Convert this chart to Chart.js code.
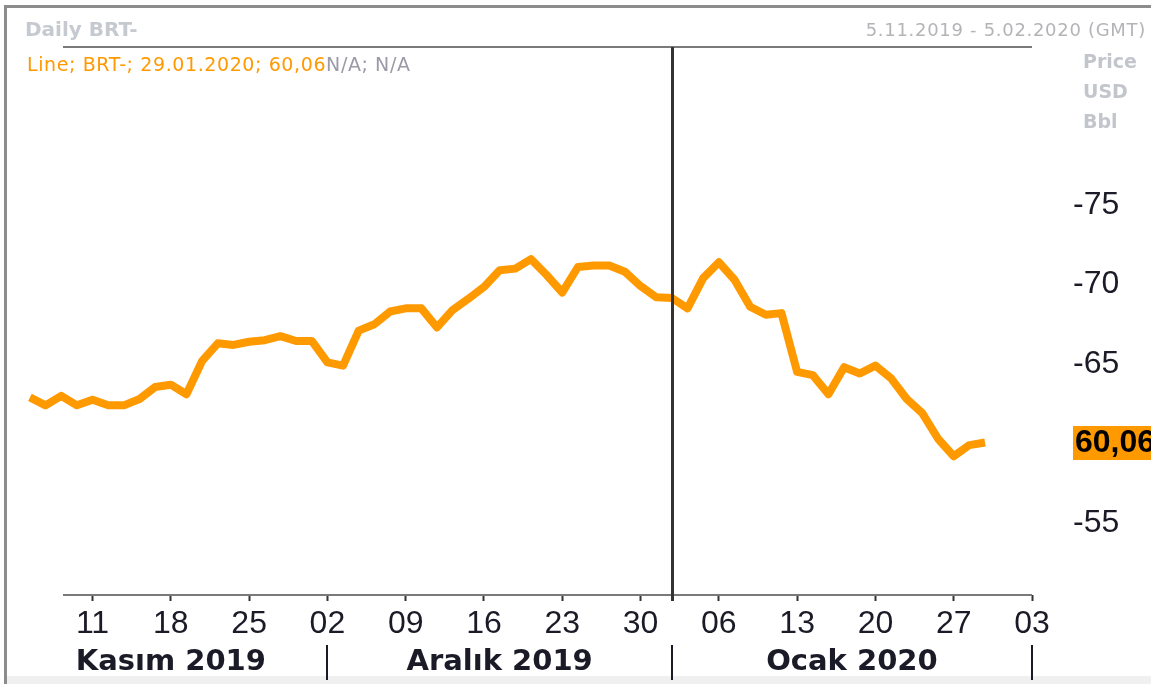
<!DOCTYPE html>
<html>
<head>
<meta charset="utf-8">
<script src="https://cdn.jsdelivr.net/npm/chart.js@4.4.1/dist/chart.umd.min.js"></script>
<style>
    html, body { margin: 0; padding: 0; background: #fff; }
    #brtChart { display: block; }
</style>
</head>
<body>
<canvas id="brtChart" width="1151" height="684"></canvas>
<script>
// işlem günleri (hafta içi), 5.11.2019 - 29.01.2020
const dates = [
    '05.11.2019', '06.11.2019', '07.11.2019', '08.11.2019',
    '11.11.2019', '12.11.2019', '13.11.2019', '14.11.2019', '15.11.2019',
    '18.11.2019', '19.11.2019', '20.11.2019', '21.11.2019', '22.11.2019',
    '25.11.2019', '26.11.2019', '27.11.2019', '28.11.2019', '29.11.2019',
    '02.12.2019', '03.12.2019', '04.12.2019', '05.12.2019', '06.12.2019',
    '09.12.2019', '10.12.2019', '11.12.2019', '12.12.2019', '13.12.2019',
    '16.12.2019', '17.12.2019', '18.12.2019', '19.12.2019', '20.12.2019',
    '23.12.2019', '24.12.2019', '25.12.2019', '26.12.2019', '27.12.2019',
    '30.12.2019', '31.12.2019', '01.01.2020', '02.01.2020', '03.01.2020',
    '06.01.2020', '07.01.2020', '08.01.2020', '09.01.2020', '10.01.2020',
    '13.01.2020', '14.01.2020', '15.01.2020', '16.01.2020', '17.01.2020',
    '20.01.2020', '21.01.2020', '22.01.2020', '23.01.2020', '24.01.2020',
    '27.01.2020', '28.01.2020', '29.01.2020'
];

const prices = [
    62.9, 62.4, 63.0, 62.4,
    62.75, 62.4, 62.4, 62.8, 63.55,
    63.7, 63.1, 65.2, 66.3, 66.2,
    66.4, 66.5, 66.75, 66.45, 66.45,
    65.1, 64.9, 67.1, 67.5, 68.3,
    68.5, 68.5, 67.3, 68.4, 69.1,
    69.85, 70.9, 71.0, 71.6, 70.6,
    69.5, 71.1, 71.2, 71.2, 70.8,
    69.9, 69.2, 69.15, 68.5, 70.4,
    71.4, 70.3, 68.6, 68.1, 68.2,
    64.5, 64.3, 63.1, 64.8, 64.4,
    64.9, 64.1, 62.8, 61.9, 60.3,
    59.2, 59.9, 60.06
];

const weekTicks = [
    '11.11.2019', '18.11.2019', '25.11.2019', '02.12.2019', '09.12.2019', '16.12.2019',
    '23.12.2019', '30.12.2019', '06.01.2020', '13.01.2020', '20.01.2020', '27.01.2020', '03.02.2020'
];
const weekLabels = ['11', '18', '25', '02', '09', '16', '23', '30', '06', '13', '20', '27', '03'];

const priceTicks = [55, 65, 70, 75];

const months = ['Kasım 2019', 'Aralık 2019', 'Ocak 2020'];
const monthStarts = ['04.11.2019', '02.12.2019', '01.01.2020', '03.02.2020'];

// hafta içi gün sırası (04.11.2019 = 0)
const origin = new Date(2019, 10, 4);
function slotOf(s) {
    const [d, m, y] = s.split('.').map(Number);
    const days = Math.round((new Date(y, m - 1, d) - origin) / 86400000);
    return Math.floor(days / 7) * 5 + (days % 7);
}

const ORANGE = '#ff9900';
const DARK = '#1b1b28';

const decor = {
    id: 'decor',
    beforeDraw(chart) {
        const ctx = chart.ctx;
        ctx.save();
        ctx.fillStyle = '#ffffff';
        ctx.fillRect(0, 0, chart.width, chart.height);
        // alt şerit
        ctx.fillStyle = '#f0f0f0';
        ctx.fillRect(7, 676, chart.width, chart.height - 676);
        // çerçeve
        ctx.fillStyle = '#8c8c8c';
        ctx.fillRect(4, 5, chart.width, 3);
        ctx.fillRect(4, 5, 3, chart.height);
        ctx.restore();
    },
    afterDraw(chart) {
        const ctx = chart.ctx;
        const xs = chart.scales.x;
        const ys = chart.scales.y;
        const area = chart.chartArea;
        ctx.save();

        // üst ve alt çizgiler
        ctx.fillStyle = '#7a7a7a';
        ctx.fillRect(63, area.top - 1, area.right - 63, 2);
        ctx.fillRect(63, area.bottom - 1, area.right - 63, 2);

        // yılbaşı dikey çizgisi
        const xJan = Math.round(xs.getPixelForValue(slotOf(monthStarts[2])));
        ctx.fillStyle = '#333333';
        ctx.fillRect(xJan - 1, area.top, 3, area.bottom - area.top + 6);

        // ay ayraçları ve etiketleri
        ctx.fillStyle = DARK;
        for (let i = 1; i < monthStarts.length; i++) {
            const px = Math.round(xs.getPixelForValue(slotOf(monthStarts[i])));
            ctx.fillRect(px - 1, 645, 2, 35);
        }
        ctx.font = 'bold 29px "DejaVu Sans"';
        ctx.textAlign = 'center';
        ctx.textBaseline = 'alphabetic';
        months.forEach((m, i) => {
            const a = xs.getPixelForValue(slotOf(monthStarts[i]));
            const b = xs.getPixelForValue(slotOf(monthStarts[i + 1]));
            ctx.fillText(m, (a + b) / 2, 670);
        });

        // başlık
        ctx.textAlign = 'left';
        ctx.fillStyle = '#c5cad0';
        ctx.font = 'bold 20px "DejaVu Sans"';
        ctx.fillText('Daily BRT-', 25, 36);

        ctx.font = '19px "DejaVu Sans"';
        ctx.letterSpacing = '0.6px';
        const last = prices[prices.length - 1];
        const info = 'Line; BRT-; ' + dates[dates.length - 1] + '; ' + last.toFixed(2).replace('.', ',');
        ctx.fillStyle = ORANGE;
        ctx.fillText(info, 27, 71);
        const w = ctx.measureText(info).width;
        ctx.fillStyle = '#9a9aa8';
        ctx.fillText('N/A; N/A', 27 + w, 71);

        ctx.font = '18px "DejaVu Sans"';
        ctx.letterSpacing = '0.7px';
        ctx.fillStyle = '#b4b4b8';
        ctx.textAlign = 'right';
        ctx.fillText('5.11.2019 - 5.02.2020 (GMT)', 1146, 36);

        ctx.letterSpacing = '0px';
        ctx.textAlign = 'left';
        ctx.fillStyle = '#c2c6cc';
        ctx.font = 'bold 19px "DejaVu Sans"';
        ['Price', 'USD', 'Bbl'].forEach((t, i) => ctx.fillText(t, 1083, 68 + i * 30));

        // son değer etiketi
        const yLast = ys.getPixelForValue(last);
        ctx.fillStyle = ORANGE;
        ctx.fillRect(1073, Math.round(yLast) - 17, chart.width - 1073, 34);
        ctx.fillStyle = '#000000';
        ctx.font = 'bold 32px "Liberation Sans"';
        ctx.textBaseline = 'middle';
        ctx.fillText(last.toFixed(2).replace('.', ','), 1075, yLast + 1);

        ctx.restore();
    }
};

const ctx = document.getElementById('brtChart').getContext('2d');
const brtChart = new Chart(ctx, {
    type: 'line',
    data: {
        datasets: [{
            label: 'BRT-',
            data: dates.map((d, i) => ({ x: slotOf(d), y: prices[i] })),
            borderColor: ORANGE,
            borderWidth: 8,
            borderJoinStyle: 'round',
            pointRadius: 0,
            tension: 0,
            fill: false
        }]
    },
    options: {
        responsive: false,
        animation: false,
        layout: {
            padding: { left: 8, top: 47, right: 0, bottom: 0 }
        },
        plugins: {
            legend: { display: false },
            tooltip: { enabled: false }
        },
        scales: {
            x: {
                type: 'linear',
                min: -0.4,
                max: 65,
                afterBuildTicks: (axis) => {
                    axis.ticks = weekTicks.map(d => ({ value: slotOf(d) }));
                },
                afterFit: (axis) => {
                    axis.height = 89;
                    axis.paddingLeft = 0;
                    axis.paddingRight = 0;
                },
                border: { display: false },
                grid: {
                    drawOnChartArea: false,
                    drawTicks: true,
                    tickLength: 6,
                    tickWidth: 2,
                    tickColor: '#333333'
                },
                ticks: {
                    autoSkip: false,
                    maxRotation: 0,
                    padding: 4,
                    color: DARK,
                    font: { family: '"Liberation Sans"', size: 32 },
                    callback: (value, index) => weekLabels[index]
                }
            },
            y: {
                position: 'right',
                min: 50.47,
                max: 84.94,
                afterBuildTicks: (axis) => {
                    axis.ticks = priceTicks.map(v => ({ value: v }));
                },
                afterFit: (axis) => {
                    axis.width = 119;
                    axis.paddingTop = 0;
                    axis.paddingBottom = 0;
                },
                border: { display: false },
                grid: { display: false, drawTicks: false },
                ticks: {
                    padding: 41,
                    color: DARK,
                    font: { family: '"Liberation Sans"', size: 32 },
                    callback: (value) => '-' + value
                }
            }
        }
    },
    plugins: [decor]
});
</script>
</body>
</html>
